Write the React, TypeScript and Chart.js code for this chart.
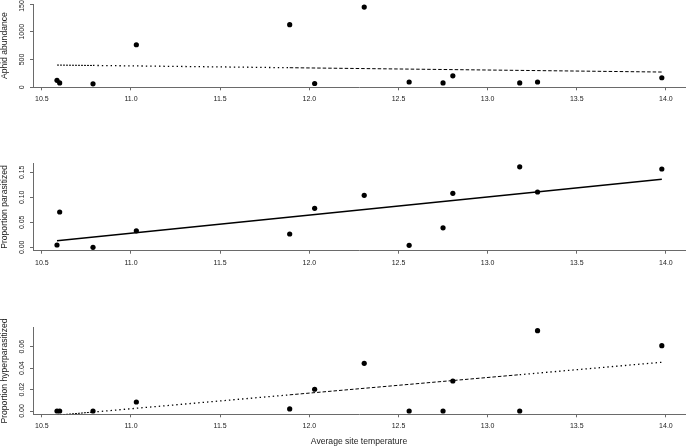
import React, { useEffect, useRef } from 'react';
import { Chart, registerables } from 'chart.js';

Chart.register(...registerables);

// ---- data ----
const temperature = [10.585, 10.6, 10.787, 11.03, 11.89, 12.03, 12.308, 12.56, 12.75, 12.805, 13.18, 13.28, 13.977];
const aphidAbundance = [83, 31, 12, 807, 1215, 19, 1572, 50, 31, 175, 31, 50, 136];
const propParasitized = [0.0046, 0.0706, 0.0, 0.033, 0.0266, 0.078, 0.104, 0.004, 0.039, 0.108, 0.161, 0.1106, 0.1566];
const propHyperparasitized = [0, 0, 0, 0.0084, 0.0019, 0.0203, 0.0445, 0, 0, 0.028, 0, 0.075, 0.061];

const aphidFitX = [10.585, 10.787, 11.89, 13.977];
const aphidFitY = [394, 386, 340, 252];
const parasFitX = [10.585, 13.977];
const parasFitY = [0.0132, 0.136];
const hyperFitX = [10.585, 10.787, 11.89, 13.18, 13.977];
const hyperFitY = [-0.0039, -0.001, 0.0151, 0.0339, 0.0455];

const aphidTickLabels = ['0', '500', '1000', '1500'];
const parasTickLabels = ['0.00', '0.05', '0.10', '0.15'];
const hyperTickLabels = ['0.00', '0.02', '0.04', '0.06'];
const xTickLabels = ['10.5', '11.0', '11.5', '12.0', '12.5', '13.0', '13.5', '14.0'];

const FONT = "'Liberation Sans', Arial, sans-serif";
const TICK_SIZE = 7;
const TITLE_SIZE = 8.6;
const AXIS = '#6a6a6a';
const TEXT = '#222';
const X_MIN = 10.4504;
const X_MAX = 14.107;
const Y_AXIS_W = 33;

const DENSE = [2, 1];
const DOT = [1.4, 3];
const DASH = [3.5, 2];

type PanelProps = {
  top: number;
  height: number;
  areaTop: number;
  areaBottom: number;
  yMin: number;
  yMax: number;
  yStep: number;
  yDecimals: number;
  yTickLabels: string[];
  yTitle: string;
  xTitle?: string;
  ys: number[];
  fitX: number[];
  fitY: number[];
  dashes?: number[][];
  lineWidth: number;
};

function Panel(p: PanelProps) {
  const ref = useRef<HTMLCanvasElement>(null);
  useEffect(() => {
    const canvas = ref.current!;
    const m = document.createElement('canvas').getContext('2d')!;
    m.font = `${TICK_SIZE}px ${FONT}`;
    let widest = 0;
    p.yTickLabels.forEach((t) => (widest = Math.max(widest, m.measureText(t).width)));
    const yPad = Y_AXIS_W - 22 - 3 - widest / 2;

    const chart = new Chart(canvas, {
      type: 'scatter',
      data: {
        datasets: [
          {
            data: temperature.map((x, i) => ({ x, y: p.ys[i] })),
            showLine: false,
            pointRadius: 2.6,
            pointBackgroundColor: '#000',
            pointBorderWidth: 0,
            order: 0,
          } as any,
          {
            data: p.fitX.map((x, i) => ({ x, y: p.fitY[i] })),
            showLine: true,
            pointRadius: 0,
            borderColor: '#000',
            borderWidth: p.lineWidth,
            clip: 0,
            segment: {
              borderDash: (c: any) => (p.dashes ? p.dashes[c.p0DataIndex] : undefined),
              borderWidth: (c: any) =>
                p.dashes && p.dashes[c.p0DataIndex] === DOT ? 1.3 : p.lineWidth,
            },
            order: 1,
          } as any,
        ],
      },
      options: {
        responsive: false,
        animation: false,
        events: [],
        layout: { padding: { top: p.areaTop, left: 0, right: 0, bottom: 0 } },
        plugins: { legend: { display: false }, tooltip: { enabled: false } },
        scales: {
          x: {
            type: 'linear',
            position: 'bottom',
            min: X_MIN,
            max: X_MAX,
            ticks: {
              stepSize: 0.5,
              includeBounds: false,
              autoSkip: false,
              maxRotation: 0,
              padding: 5,
              color: TEXT,
              font: { family: FONT, size: TICK_SIZE },
              callback: (v: any) => {
                const idx = Math.round((Number(v) - 10.5) / 0.5);
                return xTickLabels[idx] ?? Number(v).toFixed(1);
              },
            },
            grid: { drawOnChartArea: false, drawTicks: true, tickLength: 3, color: AXIS, lineWidth: 1 },
            border: { display: true, color: AXIS, width: 1 },
            title: p.xTitle
              ? {
                  display: true,
                  text: p.xTitle,
                  color: TEXT,
                  font: { family: FONT, size: TITLE_SIZE },
                  padding: { top: 0, bottom: 1 },
                }
              : { display: false },
            afterFit: (s: any) => {
              s.height = p.height - p.areaBottom;
              s.paddingLeft = 0;
              s.paddingRight = 0;
            },
          },
          y: {
            type: 'linear',
            position: 'left',
            min: p.yMin,
            max: p.yMax,
            ticks: {
              stepSize: p.yStep,
              includeBounds: false,
              autoSkip: false,
              minRotation: 90,
              maxRotation: 90,
              crossAlign: 'center',
              padding: yPad,
              color: TEXT,
              font: { family: FONT, size: TICK_SIZE },
              callback: (v: any) => {
                const idx = Math.round(Number(v) / p.yStep);
                return p.yTickLabels[idx] ?? Number(v).toFixed(p.yDecimals);
              },
            },
            grid: { drawOnChartArea: false, drawTicks: true, tickLength: 3, color: AXIS, lineWidth: 1 },
            border: { display: true, color: AXIS, width: 1 },
            title: {
              display: true,
              text: p.yTitle,
              color: TEXT,
              font: { family: FONT, size: TITLE_SIZE },
              padding: { top: -1, bottom: 0 },
            },
            afterFit: (s: any) => {
              s.width = Y_AXIS_W;
              s.paddingTop = 0;
              s.paddingBottom = 0;
            },
          },
        },
      } as any,
    });
    return () => chart.destroy();
  }, []);
  return (
    <canvas
      ref={ref}
      width={689}
      height={p.height}
      style={{ position: 'absolute', left: 0, top: p.top, width: 689, height: p.height }}
    />
  );
}

export default function App() {
  return (
    <div style={{ position: 'absolute', left: 0, top: 0, width: 689, height: 448, background: '#fff' }}>
      <Panel
        top={0}
        height={115}
        areaTop={0}
        areaBottom={87.3}
        yMin={-58.2}
        yMax={1635.4}
        yStep={500}
        yDecimals={0}
        yTickLabels={aphidTickLabels}
        yTitle="Aphid abundance"
        ys={aphidAbundance}
        fitX={aphidFitX}
        fitY={aphidFitY}
        dashes={[DENSE, DOT, DASH]}
        lineWidth={1}
      />
      <Panel
        top={140}
        height={135}
        areaTop={23.3}
        areaBottom={110.7}
        yMin={-0.0068}
        yMax={0.168}
        yStep={0.05}
        yDecimals={2}
        yTickLabels={parasTickLabels}
        yTitle="Proportion parasitized"
        ys={propParasitized}
        fitX={parasFitX}
        fitY={parasFitY}
        lineWidth={1.6}
      />
      <Panel
        top={300}
        height={148}
        areaTop={27.7}
        areaBottom={114.3}
        yMin={-0.00308}
        yMax={0.07775}
        yStep={0.02}
        yDecimals={2}
        yTickLabels={hyperTickLabels}
        yTitle="Proportion hyperparasitized"
        xTitle="Average site temperature"
        ys={propHyperparasitized}
        fitX={hyperFitX}
        fitY={hyperFitY}
        dashes={[DENSE, DOT, DASH, DOT]}
        lineWidth={1}
      />
    </div>
  );
}
